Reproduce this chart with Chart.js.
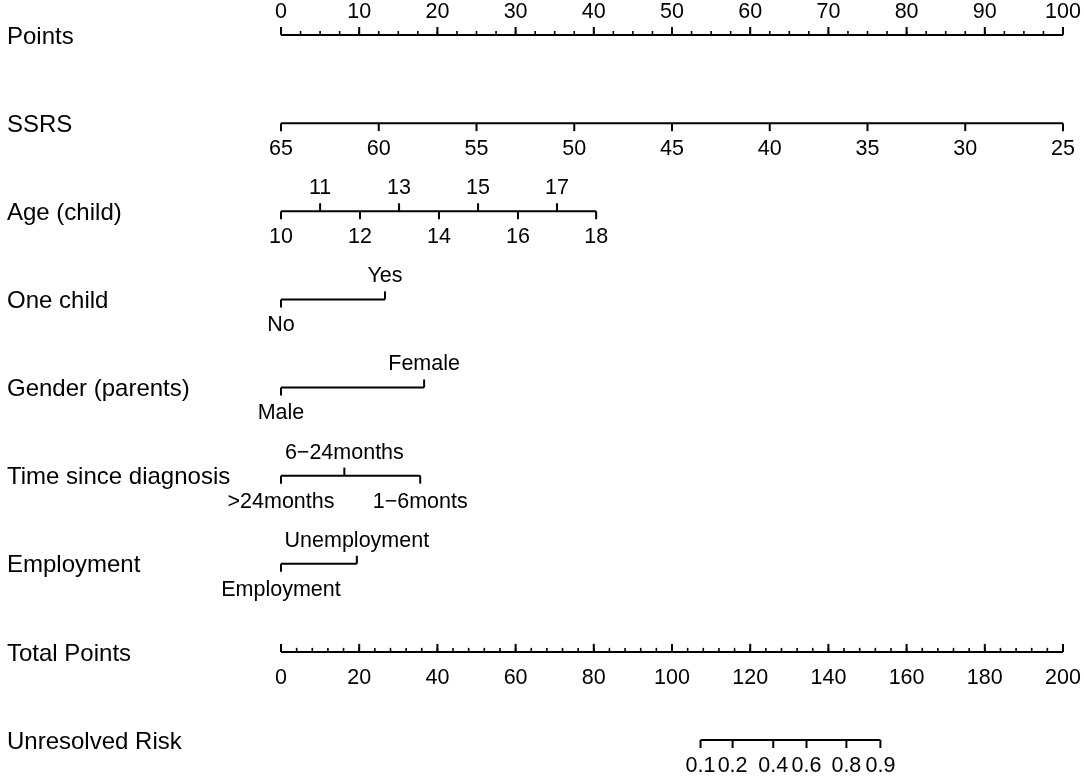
<!DOCTYPE html>
<html>
<head>
<meta charset="utf-8">
<title>Nomogram</title>
<script src="https://cdn.jsdelivr.net/npm/chart.js@4.4.1/dist/chart.umd.min.js"></script>
<style>
  html, body { margin: 0; padding: 0; background: #fff; }
  #wrap { position: relative; width: 1084px; height: 781px; }
</style>
</head>
<body>
<div id="wrap"><canvas id="nomo"></canvas></div>
<script>
// Row names, top to bottom
const rowNames = ['Points', 'SSRS', 'Age (child)', 'One child', 'Gender (parents)',
  'Time since diagnosis', 'Employment', 'Total Points', 'Unresolved Risk'];

// Points scale (0-100)
const pointsTicks = [0, 10, 20, 30, 40, 50, 60, 70, 80, 90, 100];

// predictor scales: labels and the points they sit on
const ssrsLabels = ['65', '60', '55', '50', '45', '40', '35', '30', '25'];
const ssrsPoints = [0, 12.5, 25, 37.5, 50, 62.5, 75, 87.5, 100];

const ageLabels = ['10', '11', '12', '13', '14', '15', '16', '17', '18'];
const agePoints = [0, 5.0, 10.1, 15.1, 20.2, 25.2, 30.3, 35.3, 40.3];

const oneChildLabels = ['No', 'Yes'];
const oneChildPoints = [0, 13.3];

const genderLabels = ['Male', 'Female'];
const genderPoints = [0, 18.3];

const timeLabels = ['>24months', '6\u221224months', '1\u22126monts'];
const timePoints = [0, 8.1, 17.8];

const employmentLabels = ['Employment', 'Unemployment'];
const employmentPoints = [0, 9.7];

// Total points scale (0-200)
const totalTicks = [0, 20, 40, 60, 80, 100, 120, 140, 160, 180, 200];

// risk scale, placed on total points
const riskLabels = ['0.1', '0.2', '0.4', '0.6', '0.8', '0.9'];
const riskTotalPoints = [107.3, 115.5, 125.9, 134.4, 144.6, 153.3];

const FONT = '"Liberation Sans", Arial, Helvetica, sans-serif';

// up = tick and label above the line, down = below
function sides(labels, pattern) {
    return labels.map((_, i) => pattern[i % pattern.length]);
}

// each row: which x scale, tick positions, labels, sides
const rows = [
    { axis: 'x', values: pointsTicks, labels: pointsTicks.map(String), side: sides(pointsTicks, ['up']), minor: 2.5, max: 100 },
    { axis: 'x', values: ssrsPoints, labels: ssrsLabels, side: sides(ssrsLabels, ['down']) },
    { axis: 'x', values: agePoints, labels: ageLabels, side: sides(ageLabels, ['down', 'up']) },
    { axis: 'x', values: oneChildPoints, labels: oneChildLabels, side: ['down', 'up'] },
    { axis: 'x', values: genderPoints, labels: genderLabels, side: ['down', 'up'] },
    { axis: 'x', values: timePoints, labels: timeLabels, side: ['down', 'up', 'down'] },
    { axis: 'x', values: employmentPoints, labels: employmentLabels, side: ['down', 'up'] },
    { axis: 'xTotal', values: totalTicks, labels: totalTicks.map(String), side: sides(totalTicks, ['up']), labelSide: 'down', minor: 4, max: 200 },
    { axis: 'xTotal', values: riskTotalPoints, labels: riskLabels, side: sides(riskLabels, ['down']) }
];

const datasets = rows.map((r, i) => ({
    label: rowNames[i],
    xAxisID: r.axis,
    data: [{ x: Math.min(...r.values), y: i }, { x: Math.max(...r.values), y: i }],
    showLine: true,
    borderColor: '#000',
    borderWidth: 2,
    pointRadius: 0,
    clip: false
}));

const nomogramPlugin = {
    id: 'nomogramTicks',
    afterDatasetsDraw(chart) {
        const ctx = chart.ctx;
        const yScale = chart.scales.y;
        ctx.save();
        ctx.strokeStyle = '#000';
        ctx.fillStyle = '#000';
        ctx.lineWidth = 2;
        rows.forEach((r, i) => {
            const xs = chart.scales[r.axis];
            const y = yScale.getPixelForValue(i);
            // minor ticks
            if (r.minor) {
                ctx.lineWidth = 1.6;
                for (let v = 0; v <= r.max + 1e-9; v += r.minor) {
                    const px = xs.getPixelForValue(v);
                    ctx.beginPath();
                    ctx.moveTo(px, y);
                    ctx.lineTo(px, y - 4);
                    ctx.stroke();
                }
                ctx.lineWidth = 2;
            }
            ctx.font = '21.5px ' + FONT;
            ctx.textAlign = 'center';
            ctx.textBaseline = 'middle';
            r.values.forEach((v, k) => {
                const px = xs.getPixelForValue(v);
                const dir = r.side[k] === 'up' ? -1 : 1;
                ctx.beginPath();
                ctx.moveTo(px, y);
                ctx.lineTo(px, y + dir * 8);
                ctx.stroke();
                const ldir = r.labelSide ? (r.labelSide === 'up' ? -1 : 1) : dir;
                ctx.fillText(r.labels[k], px, y + (ldir < 0 ? -23 : 26));
            });
            // row name on the left
            ctx.font = '24px ' + FONT;
            ctx.textAlign = 'left';
            ctx.fillText(rowNames[i], 7, y + 2);
        });
        ctx.restore();
    }
};

new Chart(document.getElementById('nomo'), {
    type: 'scatter',
    data: { datasets: datasets },
    options: {
        responsive: true,
        maintainAspectRatio: false,
        animation: false,
        devicePixelRatio: 1,
        layout: { padding: { left: 281, right: 21, top: 35, bottom: 41 } },
        scales: {
            x: { type: 'linear', min: 0, max: 100, display: false },
            xTotal: { type: 'linear', min: 0, max: 200, display: false },
            y: { type: 'linear', min: 0, max: 8, reverse: true, display: false }
        },
        plugins: { legend: { display: false }, tooltip: { enabled: false } }
    },
    plugins: [nomogramPlugin]
});
</script>
</body>
</html>
